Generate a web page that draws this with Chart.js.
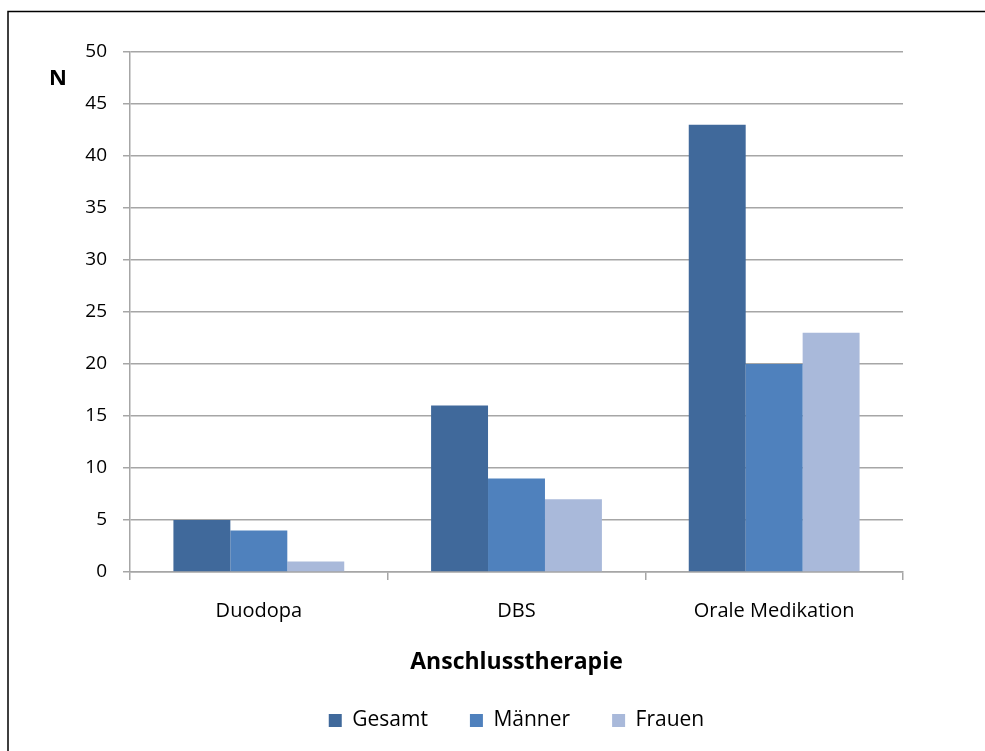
<!DOCTYPE html>
<html>
<head>
<meta charset="utf-8">
<script src="https://cdn.jsdelivr.net/npm/chart.js@4/dist/chart.umd.min.js"></script>
<style>
  html, body { margin: 0; padding: 0; background: #fff; }
  #wrap { width: 985px; height: 751px; position: relative; }
</style>
</head>
<body>
<div id="wrap"><canvas id="therapyChart"></canvas></div>
<script>
// data
const categories = ['Duodopa', 'DBS', 'Orale Medikation'];
const gesamt = [5, 16, 43];
const maenner = [4, 9, 20];
const frauen = [1, 7, 23];
const yTicks = [0, 5, 10, 15, 20, 25, 30, 35, 40, 45, 50];

const fontFamily = '"Open Sans", "DejaVu Sans", sans-serif';
const gridGray = '#a6a6a6';

// frame (left + top line) and the "N" axis label
const decorPlugin = {
    id: 'decor',
    afterDraw(chart) {
        const ctx = chart.ctx;
        ctx.save();
        ctx.strokeStyle = '#000';
        ctx.lineWidth = 1.5;
        ctx.beginPath();
        ctx.moveTo(8, 751);
        ctx.lineTo(8, 11.5);
        ctx.lineTo(985, 11.5);
        ctx.stroke();

        ctx.fillStyle = '#000';
        ctx.font = 'bold 22px ' + fontFamily;
        ctx.textAlign = 'center';
        ctx.textBaseline = 'middle';
        ctx.fillText('N', 58, 79);
        ctx.restore();
    }
};

const ctx = document.getElementById('therapyChart').getContext('2d');

new Chart(ctx, {
    type: 'bar',
    data: {
        labels: categories,
        datasets: [
            { label: 'Gesamt', data: gesamt, backgroundColor: '#40699b' },
            { label: 'Männer', data: maenner, backgroundColor: '#4f81bd' },
            { label: 'Frauen', data: frauen, backgroundColor: '#a9b9da' }
        ]
    },
    options: {
        responsive: true,
        maintainAspectRatio: false,
        animation: false,
        layout: {
            padding: { left: 0, right: 82, top: 52, bottom: 10 }
        },
        datasets: {
            bar: {
                categoryPercentage: 0.663,
                barPercentage: 1.0
            }
        },
        plugins: {
            legend: {
                position: 'bottom',
                fullSize: false,
                labels: {
                    boxWidth: 13,
                    boxHeight: 13,
                    padding: 42,
                    color: '#000',
                    font: { family: fontFamily, size: 21 }
                }
            },
            tooltip: { enabled: false }
        },
        scales: {
            x: {
                grid: {
                    offset: true,
                    drawOnChartArea: false,
                    drawTicks: true,
                    tickLength: 8,
                    color: gridGray,
                    lineWidth: 1.5
                },
                border: { color: gridGray, width: 1.5 },
                ticks: {
                    color: '#000',
                    padding: 19,
                    font: { family: fontFamily, size: 20 }
                },
                title: {
                    display: true,
                    text: 'Anschlusstherapie',
                    color: '#000',
                    font: { family: fontFamily, size: 23, weight: 'bold' },
                    padding: { top: 0, bottom: -8 }
                },
                afterFit(scale) {
                    scale.height = 96;
                }
            },
            y: {
                min: 0,
                max: 50,
                afterBuildTicks(scale) {
                    scale.ticks = yTicks.map(v => ({ value: v }));
                },
                grid: {
                    color: gridGray,
                    lineWidth: 1.5,
                    tickLength: 7
                },
                border: { color: gridGray, width: 1.5 },
                ticks: {
                    color: '#000',
                    padding: 16,
                    font: { family: fontFamily, size: 19 }
                },
                afterFit(scale) {
                    scale.width = 130;
                }
            }
        }
    },
    plugins: [decorPlugin]
});
</script>
</body>
</html>
